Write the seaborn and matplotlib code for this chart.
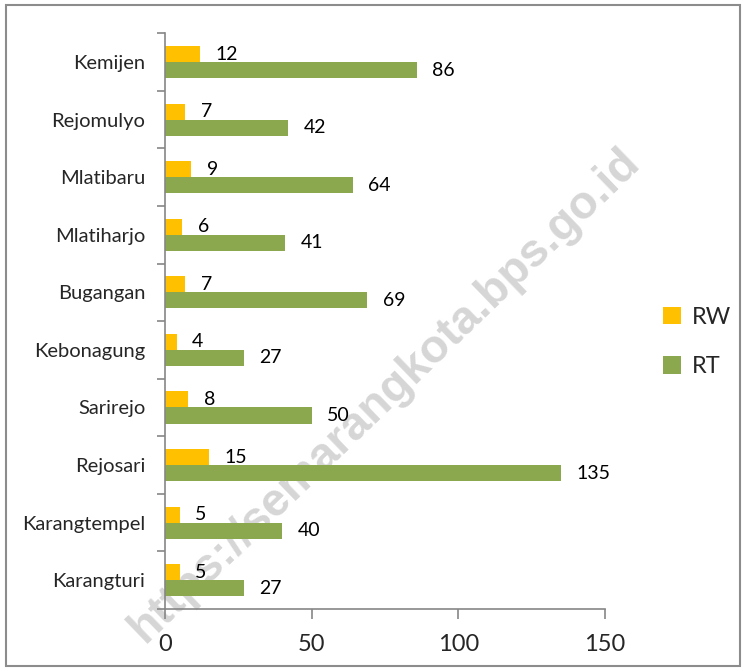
import pandas as pd
import numpy as np
import seaborn as sns
import matplotlib.pyplot as plt
from matplotlib.patches import Patch, Rectangle

kelurahan = ['Kemijen', 'Rejomulyo', 'Mlatibaru', 'Mlatiharjo', 'Bugangan',
             'Kebonagung', 'Sarirejo', 'Rejosari', 'Karangtempel', 'Karangturi']
rw = [12, 7, 9, 6, 7, 4, 8, 15, 5, 5]
rt = [86, 42, 64, 41, 69, 27, 50, 135, 40, 27]
series = ['RW', 'RT']
warna = {'RW': '#FFC000', 'RT': '#8BA84F'}

df = pd.DataFrame({'kelurahan': kelurahan * 2,
                   'jenis': ['RW'] * len(rw) + ['RT'] * len(rt),
                   'jumlah': rw + rt})

sns.set_style('white')
plt.rcParams['font.family'] = ['Lato', 'DejaVu Sans']

fig = plt.figure(figsize=(7.46, 6.71), dpi=100)
ax = fig.add_axes([0.221, 0.0924, 0.590, 0.858])
ax.set_facecolor('none')

sns.barplot(data=df, y='kelurahan', x='jumlah', hue='jenis', order=kelurahan,
            hue_order=series, palette=warna, saturation=1, orient='h', width=0.56,
            edgecolor='none', ax=ax, legend=False)

for cont in ax.containers:
    ax.bar_label(cont, padding=11, fontsize=14, color='black')

ax.set_xlim(0, 150)
ax.set_ylim(9.5, -0.5)
ax.set_xticks([0, 50, 100, 150])
ax.set_xlabel('')
ax.set_ylabel('')

gris = '#868686'
for s in ['top', 'right']:
    ax.spines[s].set_visible(False)
for s in ['left', 'bottom']:
    ax.spines[s].set_color(gris)
    ax.spines[s].set_linewidth(1.2)

ax.set_yticks(np.arange(-0.5, 10, 1), minor=True)
ax.tick_params(axis='y', which='major', length=0, pad=14, labelsize=14.5)
ax.tick_params(axis='y', which='minor', left=True, length=6, color=gris, width=1.2)
ax.tick_params(axis='x', which='major', bottom=True, length=7, color=gris, width=1.2,
               pad=11, labelsize=17)

handles = [Patch(facecolor=warna[s], edgecolor='none', label=s) for s in series]
fig.legend(handles=handles, loc='center left', bbox_to_anchor=(0.86, 0.49),
           frameon=False, fontsize=17, handlelength=0.75, handleheight=0.75,
           handletextpad=0.5, labelspacing=1.2)

# watermark
fig.text(0.516, 0.411, 'https://semarangkota.bps.go.id', rotation=44,
         ha='center', va='center', fontsize=33.5, fontweight='bold',
         color='#d6d6d6', family='Liberation Sans', zorder=-1)

fig.patches.append(Rectangle((0.008, 0.008), 0.984, 0.984, transform=fig.transFigure,
                             fill=False, edgecolor='#8c8c8c', linewidth=1.5))

plt.savefig('out.png', dpi=100)
